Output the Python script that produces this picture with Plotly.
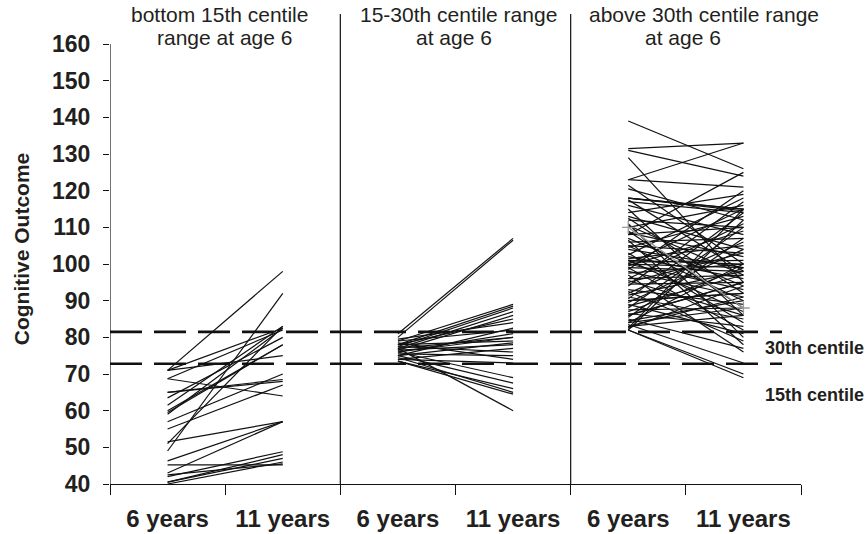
import plotly.graph_objects as go

# ---------------- data ----------------
x_labels = ["6 years", "11 years", "6 years", "11 years", "6 years", "11 years"]
y_ticks = [40, 50, 60, 70, 80, 90, 100, 110, 120, 130, 140, 150, 160]

panel_titles = [("bottom 15th centile", "range at age 6"),
                ("15-30th centile range", "at age 6"),
                ("above 30th centile range", "at age 6")]

centile_30 = 81.5
centile_15 = 72.8

p1_6y = [71, 71, 71, 68.7, 68.7, 65, 65, 63.5, 61.5, 60, 59, 57, 55, 51.5,
         51, 49, 46.3, 45.2, 43, 42, 40.5, 40, 40.5, 42.5, 59.5]
p1_11y = [98, 82.5, 75, 64, 82, 68, 68.5, 80, 83, 78, 82.5, 70, 67, 57,
          83, 92, 57, 45.2, 57, 48.8, 48, 46, 47, 45.5, 78]

p2_6y = [81, 80, 79, 78, 77.5, 77, 76.5, 78, 79, 76, 77, 78, 75, 76.5,
         74, 77.5, 75.5, 78.5, 74, 76, 75, 73.5, 74.5, 73.5, 77, 76, 75, 79.5]
p2_11y = [107, 106.5, 89, 88.5, 88, 87, 86, 85, 82, 81, 80, 79, 78.5, 78,
          77, 76, 75, 74, 73, 69, 67.5, 66, 65, 64.5, 60, 80, 82.5, 84]

p3_6y = [139, 131.5, 131, 129, 123, 123, 121.5, 120.5, 118, 118,
         117.5, 116, 115, 114, 113, 112.5, 112, 111, 110.5, 110,
         109, 108.5, 108, 107, 106.5, 106, 105, 104.5, 104, 103,
         102.5, 102, 101.5, 101, 100.5, 100, 100, 99.5, 99, 98.5,
         98, 97.5, 97, 96, 95.5, 95, 94.5, 94, 93, 92.5,
         92, 91.5, 91, 90.5, 90, 89.5, 89, 88.5, 88, 87.5,
         87, 86.5, 86, 85.5, 85, 84.5, 84, 83.5, 83, 82.5,
         82.5, 82, 82, 82, 118, 117, 100, 101, 99, 105,
         90, 86, 108, 96, 84, 83]
p3_11y = [126, 133, 124, 95, 121, 133, 100, 112, 115, 114.5,
          98, 108, 86, 119, 104, 92, 110, 80, 97, 116,
          88, 102, 125, 94, 78, 107, 90, 113, 99, 84,
          118, 96, 105, 87, 101, 115, 93, 109, 82, 120,
          91, 100, 76, 111, 86, 103, 95, 117, 89, 79,
          106, 98, 85, 114, 92, 104, 81, 97, 110, 88,
          99, 83, 95, 107, 77, 90, 100, 73, 86, 94,
          115, 70, 112, 69, 115, 114, 99, 100, 98, 103,
          92, 95, 110, 97, 88, 91]

# highlighted (grey) trajectory in the third panel
p3_grey = [110, 88]

panels = [(p1_6y, p1_11y), (p2_6y, p2_11y), (p3_6y, p3_11y)]

# ---------------- figure ----------------
FONT = "Liberation Sans, Arial, Helvetica, sans-serif"
TXT = "#231f20"

fig = go.Figure()

for k, (a, b) in enumerate(panels):
    x0, x1 = 2 * k + 0.5, 2 * k + 1.5
    xs, ys = [], []
    for v6, v11 in zip(a, b):
        xs += [x0, x1, None]
        ys += [v6, v11, None]
    fig.add_trace(go.Scatter(x=xs, y=ys, mode="lines",
                             line=dict(color="#111111", width=1.2),
                             showlegend=False, hoverinfo="skip"))

fig.add_trace(go.Scatter(x=[4.5, 5.5], y=p3_grey, mode="lines+markers",
                         line=dict(color="#9a9a9a", width=1.3),
                         marker=dict(symbol="cross-thin", size=9,
                                     line=dict(color="#9a9a9a", width=1.3)),
                         showlegend=False, hoverinfo="skip"))

# centile dashed lines
for v in (centile_30, centile_15):
    fig.add_shape(type="line", xref="x", yref="y", x0=0, x1=5.835, y0=v, y1=v,
                  line=dict(color="#111111", width=2.7, dash="32px,12px"))

# panel separators
for xv in (2, 4):
    fig.add_shape(type="line", xref="x", yref="paper", x0=xv, x1=xv, y0=0, y1=1,
                  line=dict(color="#111111", width=1.2))

# y-axis line (only from 40 to 160)
fig.add_shape(type="line", xref="x", yref="y", x0=0, x1=0, y0=40, y1=160,
              line=dict(color="#111111", width=1.2))

# panel titles
title_pos = [(0.955, 0.99), (3.03, 2.99), (5.16, 4.975)]
for (l1, l2), (xa, xb) in zip(panel_titles, title_pos):
    fig.add_annotation(text=l1, x=xa, y=1.0, xref="x", yref="paper",
                       showarrow=False, xanchor="center", yanchor="middle",
                       font=dict(family=FONT, size=21, color=TXT))
    fig.add_annotation(text=l2, x=xb, y=0.949, xref="x", yref="paper",
                       showarrow=False, xanchor="center", yanchor="middle",
                       font=dict(family=FONT, size=21, color=TXT))

# centile labels
fig.add_annotation(text="30th centile", x=0.945, y=77.0, xref="paper", yref="y",
                   showarrow=False, xanchor="left", yanchor="middle",
                   font=dict(family=FONT, size=18, color=TXT, weight="bold"))
fig.add_annotation(text="15th centile", x=0.945, y=64.3, xref="paper", yref="y",
                   showarrow=False, xanchor="left", yanchor="middle",
                   font=dict(family=FONT, size=18, color=TXT, weight="bold"))

fig.update_layout(
    width=867, height=534,
    margin=dict(l=110, r=66, t=14, b=50),
    plot_bgcolor="white", paper_bgcolor="white",
    xaxis=dict(range=[0, 6], tickmode="array", automargin=False,
               tickvals=[0.5, 1.5, 2.5, 3.5, 4.5, 5.5], ticktext=x_labels,
               ticks="outside", ticklen=10, tickcolor="rgba(0,0,0,0)",
               ticklabelstandoff=3,
               tickfont=dict(family=FONT, size=24, color=TXT, weight="bold"),
               showline=True, linecolor="#111111", linewidth=1.2,
               showgrid=False, zeroline=False,
               minor=dict(tickmode="array", tickvals=[0, 1, 2, 3, 4, 5, 6],
                          ticks="outside", ticklen=10, tickcolor="#111111",
                          tickwidth=1.2, showgrid=False)),
    yaxis=dict(range=[40, 168.2], tickmode="array", tickvals=y_ticks,
               automargin=False,
               ticks="outside", ticklen=6, tickcolor="#111111", tickwidth=1.2,
               tickfont=dict(family=FONT, size=23, color=TXT, weight="bold"),
               ticklabelstandoff=8,
               showline=False, showgrid=False, zeroline=False,
               title=dict(text="Cognitive Outcome", standoff=16,
                          font=dict(family=FONT, size=21, color=TXT, weight="bold"))),
)

# remove the default page margin so the figure sits at the window's top-left corner
fig.write_html("out.html", config={"displayModeBar": False},
               post_script="document.body.style.margin='0';document.body.style.overflow='hidden';")
